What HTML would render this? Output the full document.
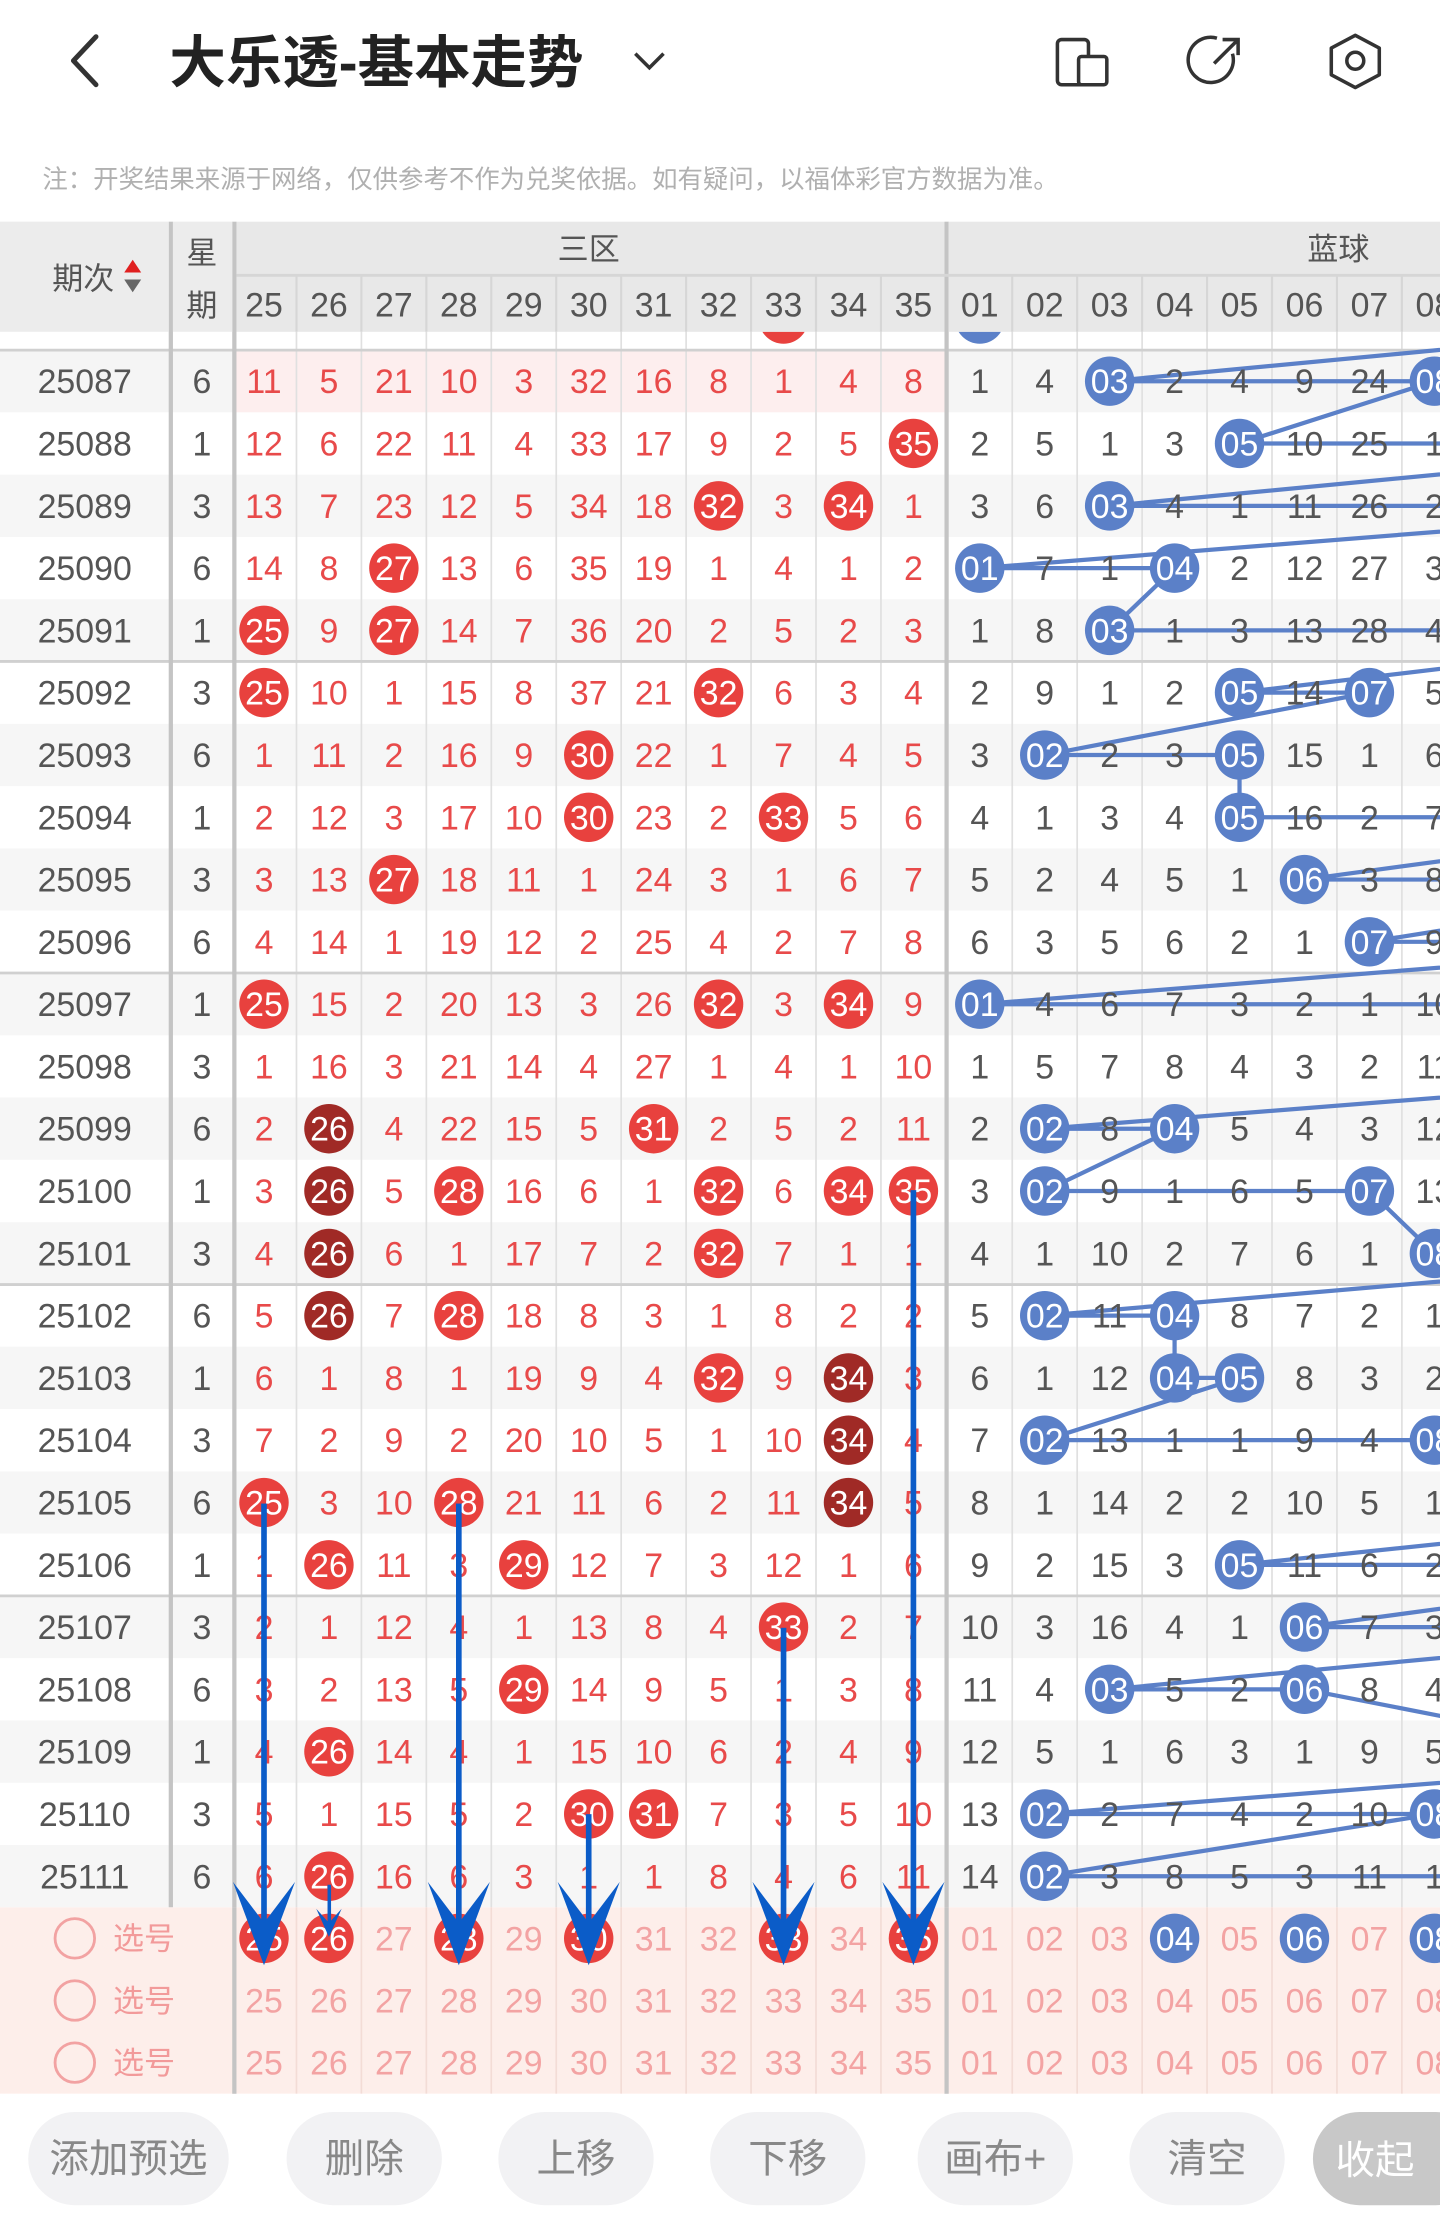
<!DOCTYPE html>
<html><head><meta charset="utf-8"><style>
html,body{margin:0;padding:0;background:#fff;}
svg{display:block;}
text{font-family:"Liberation Sans","Noto Sans CJK SC",sans-serif;}
.c{text-anchor:middle;font-size:24px;}
.g{fill:#555;}
.r{fill:#e84a4a;}
.w{fill:#fff;}
.p{fill:#f3a3a3;}
.bl{fill:#5b80c8;}
.rb{fill:#e8413e;}
.db{fill:#a02a26;}
</style></head><body>
<svg width="1440" height="2213" viewBox="0 0 1020 1567.5" xmlns="http://www.w3.org/2000/svg">
<rect width="1020" height="1567.5" fill="#fff"/>
<path d="M68,26 L52,43 L68,60" fill="none" stroke="#333" stroke-width="3.5" stroke-linecap="round" stroke-linejoin="round"/>
<text x="120" y="58" style="font-size:40px;font-weight:bold;fill:#222">大乐透-基本走势</text>
<path d="M450,38 L460,48 L470,38" fill="none" stroke="#333" stroke-width="2.5"/>
<rect x="749" y="28" width="22" height="32" rx="3" fill="none" stroke="#333" stroke-width="2.5"/>
<rect x="764" y="40" width="20" height="20" rx="2" fill="#fff" stroke="#333" stroke-width="2.5"/>
<path d="M873,38 A16,16 0 1 1 862,27" fill="none" stroke="#333" stroke-width="2.5"/>
<path d="M860,45 L876,29 M866,28 L877,28 L877,39" fill="none" stroke="#333" stroke-width="2.5"/>
<path d="M960,25 L977,34 L977,53 L960,62 L943,53 L943,34 Z" fill="none" stroke="#333" stroke-width="2.5" stroke-linejoin="round"/>
<circle cx="960" cy="43" r="6" fill="none" stroke="#333" stroke-width="2.5"/>
<text x="30" y="133" style="font-size:18px;fill:#b0b0b0">注：开奖结果来源于网络，仅供参考不作为兑奖依据。如有疑问，以福体彩官方数据为准。</text>

<defs><clipPath id="body"><rect x="0" y="235" width="1020" height="1116"/></clipPath></defs>
<g clip-path="url(#body)">
<rect x="0" y="248" width="1020" height="44" fill="#f5f5f5"/>
<rect x="166" y="248" width="504" height="44" fill="#fdeeee"/>
<rect x="0" y="336.2" width="1020" height="44.1" fill="#f6f6f6"/>
<rect x="0" y="424.4" width="1020" height="44.1" fill="#f6f6f6"/>
<rect x="0" y="512.7" width="1020" height="44.1" fill="#f6f6f6"/>
<rect x="0" y="600.9" width="1020" height="44.1" fill="#f6f6f6"/>
<rect x="0" y="689.2" width="1020" height="44.1" fill="#f6f6f6"/>
<rect x="0" y="777.4" width="1020" height="44.1" fill="#f6f6f6"/>
<rect x="0" y="865.7" width="1020" height="44.1" fill="#f6f6f6"/>
<rect x="0" y="953.9" width="1020" height="44.1" fill="#f6f6f6"/>
<rect x="0" y="1042.2" width="1020" height="44.1" fill="#f6f6f6"/>
<rect x="0" y="1130.4" width="1020" height="44.1" fill="#f6f6f6"/>
<rect x="0" y="1218.7" width="1020" height="44.1" fill="#f6f6f6"/>
<rect x="0" y="1306.9" width="1020" height="44.1" fill="#f6f6f6"/>
<g stroke="#e0e0e0" stroke-width="1.2">
<path d="M210,195V1483M256,195V1483M302,195V1483M348,195V1483M394,195V1483M440,195V1483M486,195V1483M532,195V1483M578,195V1483M624,195V1483M717,195V1483M763,195V1483M809,195V1483M855,195V1483M901,195V1483M947,195V1483M993,195V1483"/>
</g>
<g stroke="#d0d0d0" stroke-width="2">
<path d="M0,468.5H1020M0,689.2H1020M0,909.9H1020M0,1130.4H1020M0,248H1020"/>
</g>
<circle cx="694" cy="226" r="17.5" class="bl"/>
<circle cx="555" cy="226" r="17.5" class="rb"/>
<polyline fill="none" stroke="#5b80c8" stroke-width="3" points="694,226 1250,226 786,270 1016,270 878,314.1 1250,314.1 786,358.3 1250,358.3 694,402.4 832,402.4 786,446.5 1250,446.5 878,490.6 970,490.6 740,534.8 878,534.8 878,578.9 1250,578.9 924,623 1250,623 970,667.1 1250,667.1 694,711.3 1250,711.3 1150,755.4 1300,755.4 740,799.5 832,799.5 740,843.6 970,843.6 1016,887.8 1250,887.8 740,931.9 832,931.9 832,976 878,976 740,1020.1 1016,1020.1 1150,1064.3 1300,1064.3 878,1108.4 1250,1108.4 924,1152.5 1250,1152.5 786,1196.6 924,1196.6 1150,1240.8 1300,1240.8 740,1284.9 1016,1284.9 740,1329 1250,1329"/>
</g>
<rect x="119.5" y="157" width="3" height="1194" fill="#c4c4c4"/>
<rect x="164.5" y="157" width="3" height="1326" fill="#c4c4c4"/>
<rect x="669" y="157" width="3" height="1326" fill="#c4c4c4"/>
<rect x="0" y="157" width="119.5" height="78" fill="#ececec"/>
<rect x="122.5" y="157" width="42" height="78" fill="#ececec"/>
<rect x="167.5" y="157" width="501.5" height="78" fill="#e8e8e8"/>
<rect x="672" y="157" width="348" height="78" fill="#e8e8e8"/>
<path d="M167.5,195H1020" stroke="#d6d6d6" stroke-width="2"/>
<g stroke="#d6d6d6" stroke-width="1.5"><path d="M210,195V235M256,195V235M302,195V235M348,195V235M394,195V235M440,195V235M486,195V235M532,195V235M578,195V235M624,195V235M717,195V235M763,195V235M809,195V235M855,195V235M901,195V235M947,195V235M993,195V235"/></g>
<text x="37" y="205" style="font-size:22px;fill:#555">期次</text>
<path d="M94,184 L100,193 L88,193 Z" fill="#e02020"/>
<path d="M94,207 L100,198 L88,198 Z" fill="#666"/>
<text x="143" y="187" class="c g" style="font-size:22px">星</text>
<text x="143" y="224" class="c g" style="font-size:22px">期</text>
<text x="417" y="184" class="c g" style="font-size:22px">三区</text>
<text x="948" y="184" class="c g" style="font-size:22px">蓝球</text>
<g class="g" style="font-size:24px;text-anchor:middle" transform="translate(0,224)">
<text x="187">25</text><text x="233">26</text><text x="279">27</text><text x="325">28</text><text x="371">29</text><text x="417">30</text><text x="463">31</text><text x="509">32</text><text x="555">33</text><text x="601">34</text><text x="647">35</text>
<text x="694">01</text><text x="740">02</text><text x="786">03</text><text x="832">04</text><text x="878">05</text><text x="924">06</text><text x="970">07</text><text x="1016">08</text>
</g>

<g class="c">
<g transform="translate(0,278.5)"><text x="60" class="g">25087</text><text x="143" class="g">6</text>
<text x="187" class="r">11</text><text x="233" class="r">5</text><text x="279" class="r">21</text><text x="325" class="r">10</text><text x="371" class="r">3</text><text x="417" class="r">32</text><text x="463" class="r">16</text><text x="509" class="r">8</text><text x="555" class="r">1</text><text x="601" class="r">4</text><text x="647" class="r">8</text>
<text x="694" class="g">1</text><text x="740" class="g">4</text><circle cx="786" cy="-8.5" r="17.5" class="bl"/><text x="786" class="w">03</text><text x="832" class="g">2</text><text x="878" class="g">4</text><text x="924" class="g">9</text><text x="970" class="g">24</text><circle cx="1016" cy="-8.5" r="17.5" class="bl"/><text x="1016" class="w">08</text></g>

<g transform="translate(0,322.6)"><text x="60" class="g">25088</text><text x="143" class="g">1</text>
<text x="187" class="r">12</text><text x="233" class="r">6</text><text x="279" class="r">22</text><text x="325" class="r">11</text><text x="371" class="r">4</text><text x="417" class="r">33</text><text x="463" class="r">17</text><text x="509" class="r">9</text><text x="555" class="r">2</text><text x="601" class="r">5</text><circle cx="647" cy="-8.5" r="17.5" class="rb"/><text x="647" class="w">35</text>
<text x="694" class="g">2</text><text x="740" class="g">5</text><text x="786" class="g">1</text><text x="832" class="g">3</text><circle cx="878" cy="-8.5" r="17.5" class="bl"/><text x="878" class="w">05</text><text x="924" class="g">10</text><text x="970" class="g">25</text><text x="1016" class="g">1</text></g>

<g transform="translate(0,366.8)"><text x="60" class="g">25089</text><text x="143" class="g">3</text>
<text x="187" class="r">13</text><text x="233" class="r">7</text><text x="279" class="r">23</text><text x="325" class="r">12</text><text x="371" class="r">5</text><text x="417" class="r">34</text><text x="463" class="r">18</text><circle cx="509" cy="-8.5" r="17.5" class="rb"/><text x="509" class="w">32</text><text x="555" class="r">3</text><circle cx="601" cy="-8.5" r="17.5" class="rb"/><text x="601" class="w">34</text><text x="647" class="r">1</text>
<text x="694" class="g">3</text><text x="740" class="g">6</text><circle cx="786" cy="-8.5" r="17.5" class="bl"/><text x="786" class="w">03</text><text x="832" class="g">4</text><text x="878" class="g">1</text><text x="924" class="g">11</text><text x="970" class="g">26</text><text x="1016" class="g">2</text></g>

<g transform="translate(0,410.9)"><text x="60" class="g">25090</text><text x="143" class="g">6</text>
<text x="187" class="r">14</text><text x="233" class="r">8</text><circle cx="279" cy="-8.5" r="17.5" class="rb"/><text x="279" class="w">27</text><text x="325" class="r">13</text><text x="371" class="r">6</text><text x="417" class="r">35</text><text x="463" class="r">19</text><text x="509" class="r">1</text><text x="555" class="r">4</text><text x="601" class="r">1</text><text x="647" class="r">2</text>
<circle cx="694" cy="-8.5" r="17.5" class="bl"/><text x="694" class="w">01</text><text x="740" class="g">7</text><text x="786" class="g">1</text><circle cx="832" cy="-8.5" r="17.5" class="bl"/><text x="832" class="w">04</text><text x="878" class="g">2</text><text x="924" class="g">12</text><text x="970" class="g">27</text><text x="1016" class="g">3</text></g>

<g transform="translate(0,455)"><text x="60" class="g">25091</text><text x="143" class="g">1</text>
<circle cx="187" cy="-8.5" r="17.5" class="rb"/><text x="187" class="w">25</text><text x="233" class="r">9</text><circle cx="279" cy="-8.5" r="17.5" class="rb"/><text x="279" class="w">27</text><text x="325" class="r">14</text><text x="371" class="r">7</text><text x="417" class="r">36</text><text x="463" class="r">20</text><text x="509" class="r">2</text><text x="555" class="r">5</text><text x="601" class="r">2</text><text x="647" class="r">3</text>
<text x="694" class="g">1</text><text x="740" class="g">8</text><circle cx="786" cy="-8.5" r="17.5" class="bl"/><text x="786" class="w">03</text><text x="832" class="g">1</text><text x="878" class="g">3</text><text x="924" class="g">13</text><text x="970" class="g">28</text><text x="1016" class="g">4</text></g>

<g transform="translate(0,499.1)"><text x="60" class="g">25092</text><text x="143" class="g">3</text>
<circle cx="187" cy="-8.5" r="17.5" class="rb"/><text x="187" class="w">25</text><text x="233" class="r">10</text><text x="279" class="r">1</text><text x="325" class="r">15</text><text x="371" class="r">8</text><text x="417" class="r">37</text><text x="463" class="r">21</text><circle cx="509" cy="-8.5" r="17.5" class="rb"/><text x="509" class="w">32</text><text x="555" class="r">6</text><text x="601" class="r">3</text><text x="647" class="r">4</text>
<text x="694" class="g">2</text><text x="740" class="g">9</text><text x="786" class="g">1</text><text x="832" class="g">2</text><circle cx="878" cy="-8.5" r="17.5" class="bl"/><text x="878" class="w">05</text><text x="924" class="g">14</text><circle cx="970" cy="-8.5" r="17.5" class="bl"/><text x="970" class="w">07</text><text x="1016" class="g">5</text></g>

<g transform="translate(0,543.3)"><text x="60" class="g">25093</text><text x="143" class="g">6</text>
<text x="187" class="r">1</text><text x="233" class="r">11</text><text x="279" class="r">2</text><text x="325" class="r">16</text><text x="371" class="r">9</text><circle cx="417" cy="-8.5" r="17.5" class="rb"/><text x="417" class="w">30</text><text x="463" class="r">22</text><text x="509" class="r">1</text><text x="555" class="r">7</text><text x="601" class="r">4</text><text x="647" class="r">5</text>
<text x="694" class="g">3</text><circle cx="740" cy="-8.5" r="17.5" class="bl"/><text x="740" class="w">02</text><text x="786" class="g">2</text><text x="832" class="g">3</text><circle cx="878" cy="-8.5" r="17.5" class="bl"/><text x="878" class="w">05</text><text x="924" class="g">15</text><text x="970" class="g">1</text><text x="1016" class="g">6</text></g>

<g transform="translate(0,587.4)"><text x="60" class="g">25094</text><text x="143" class="g">1</text>
<text x="187" class="r">2</text><text x="233" class="r">12</text><text x="279" class="r">3</text><text x="325" class="r">17</text><text x="371" class="r">10</text><circle cx="417" cy="-8.5" r="17.5" class="rb"/><text x="417" class="w">30</text><text x="463" class="r">23</text><text x="509" class="r">2</text><circle cx="555" cy="-8.5" r="17.5" class="rb"/><text x="555" class="w">33</text><text x="601" class="r">5</text><text x="647" class="r">6</text>
<text x="694" class="g">4</text><text x="740" class="g">1</text><text x="786" class="g">3</text><text x="832" class="g">4</text><circle cx="878" cy="-8.5" r="17.5" class="bl"/><text x="878" class="w">05</text><text x="924" class="g">16</text><text x="970" class="g">2</text><text x="1016" class="g">7</text></g>

<g transform="translate(0,631.5)"><text x="60" class="g">25095</text><text x="143" class="g">3</text>
<text x="187" class="r">3</text><text x="233" class="r">13</text><circle cx="279" cy="-8.5" r="17.5" class="rb"/><text x="279" class="w">27</text><text x="325" class="r">18</text><text x="371" class="r">11</text><text x="417" class="r">1</text><text x="463" class="r">24</text><text x="509" class="r">3</text><text x="555" class="r">1</text><text x="601" class="r">6</text><text x="647" class="r">7</text>
<text x="694" class="g">5</text><text x="740" class="g">2</text><text x="786" class="g">4</text><text x="832" class="g">5</text><text x="878" class="g">1</text><circle cx="924" cy="-8.5" r="17.5" class="bl"/><text x="924" class="w">06</text><text x="970" class="g">3</text><text x="1016" class="g">8</text></g>

<g transform="translate(0,675.6)"><text x="60" class="g">25096</text><text x="143" class="g">6</text>
<text x="187" class="r">4</text><text x="233" class="r">14</text><text x="279" class="r">1</text><text x="325" class="r">19</text><text x="371" class="r">12</text><text x="417" class="r">2</text><text x="463" class="r">25</text><text x="509" class="r">4</text><text x="555" class="r">2</text><text x="601" class="r">7</text><text x="647" class="r">8</text>
<text x="694" class="g">6</text><text x="740" class="g">3</text><text x="786" class="g">5</text><text x="832" class="g">6</text><text x="878" class="g">2</text><text x="924" class="g">1</text><circle cx="970" cy="-8.5" r="17.5" class="bl"/><text x="970" class="w">07</text><text x="1016" class="g">9</text></g>

<g transform="translate(0,719.8)"><text x="60" class="g">25097</text><text x="143" class="g">1</text>
<circle cx="187" cy="-8.5" r="17.5" class="rb"/><text x="187" class="w">25</text><text x="233" class="r">15</text><text x="279" class="r">2</text><text x="325" class="r">20</text><text x="371" class="r">13</text><text x="417" class="r">3</text><text x="463" class="r">26</text><circle cx="509" cy="-8.5" r="17.5" class="rb"/><text x="509" class="w">32</text><text x="555" class="r">3</text><circle cx="601" cy="-8.5" r="17.5" class="rb"/><text x="601" class="w">34</text><text x="647" class="r">9</text>
<circle cx="694" cy="-8.5" r="17.5" class="bl"/><text x="694" class="w">01</text><text x="740" class="g">4</text><text x="786" class="g">6</text><text x="832" class="g">7</text><text x="878" class="g">3</text><text x="924" class="g">2</text><text x="970" class="g">1</text><text x="1016" class="g">10</text></g>

<g transform="translate(0,763.9)"><text x="60" class="g">25098</text><text x="143" class="g">3</text>
<text x="187" class="r">1</text><text x="233" class="r">16</text><text x="279" class="r">3</text><text x="325" class="r">21</text><text x="371" class="r">14</text><text x="417" class="r">4</text><text x="463" class="r">27</text><text x="509" class="r">1</text><text x="555" class="r">4</text><text x="601" class="r">1</text><text x="647" class="r">10</text>
<text x="694" class="g">1</text><text x="740" class="g">5</text><text x="786" class="g">7</text><text x="832" class="g">8</text><text x="878" class="g">4</text><text x="924" class="g">3</text><text x="970" class="g">2</text><text x="1016" class="g">11</text></g>

<g transform="translate(0,808)"><text x="60" class="g">25099</text><text x="143" class="g">6</text>
<text x="187" class="r">2</text><circle cx="233" cy="-8.5" r="17.5" class="db"/><text x="233" class="w">26</text><text x="279" class="r">4</text><text x="325" class="r">22</text><text x="371" class="r">15</text><text x="417" class="r">5</text><circle cx="463" cy="-8.5" r="17.5" class="rb"/><text x="463" class="w">31</text><text x="509" class="r">2</text><text x="555" class="r">5</text><text x="601" class="r">2</text><text x="647" class="r">11</text>
<text x="694" class="g">2</text><circle cx="740" cy="-8.5" r="17.5" class="bl"/><text x="740" class="w">02</text><text x="786" class="g">8</text><circle cx="832" cy="-8.5" r="17.5" class="bl"/><text x="832" class="w">04</text><text x="878" class="g">5</text><text x="924" class="g">4</text><text x="970" class="g">3</text><text x="1016" class="g">12</text></g>

<g transform="translate(0,852.1)"><text x="60" class="g">25100</text><text x="143" class="g">1</text>
<text x="187" class="r">3</text><circle cx="233" cy="-8.5" r="17.5" class="db"/><text x="233" class="w">26</text><text x="279" class="r">5</text><circle cx="325" cy="-8.5" r="17.5" class="rb"/><text x="325" class="w">28</text><text x="371" class="r">16</text><text x="417" class="r">6</text><text x="463" class="r">1</text><circle cx="509" cy="-8.5" r="17.5" class="rb"/><text x="509" class="w">32</text><text x="555" class="r">6</text><circle cx="601" cy="-8.5" r="17.5" class="rb"/><text x="601" class="w">34</text><circle cx="647" cy="-8.5" r="17.5" class="rb"/><text x="647" class="w">35</text>
<text x="694" class="g">3</text><circle cx="740" cy="-8.5" r="17.5" class="bl"/><text x="740" class="w">02</text><text x="786" class="g">9</text><text x="832" class="g">1</text><text x="878" class="g">6</text><text x="924" class="g">5</text><circle cx="970" cy="-8.5" r="17.5" class="bl"/><text x="970" class="w">07</text><text x="1016" class="g">13</text></g>

<g transform="translate(0,896.3)"><text x="60" class="g">25101</text><text x="143" class="g">3</text>
<text x="187" class="r">4</text><circle cx="233" cy="-8.5" r="17.5" class="db"/><text x="233" class="w">26</text><text x="279" class="r">6</text><text x="325" class="r">1</text><text x="371" class="r">17</text><text x="417" class="r">7</text><text x="463" class="r">2</text><circle cx="509" cy="-8.5" r="17.5" class="rb"/><text x="509" class="w">32</text><text x="555" class="r">7</text><text x="601" class="r">1</text><text x="647" class="r">1</text>
<text x="694" class="g">4</text><text x="740" class="g">1</text><text x="786" class="g">10</text><text x="832" class="g">2</text><text x="878" class="g">7</text><text x="924" class="g">6</text><text x="970" class="g">1</text><circle cx="1016" cy="-8.5" r="17.5" class="bl"/><text x="1016" class="w">08</text></g>

<g transform="translate(0,940.4)"><text x="60" class="g">25102</text><text x="143" class="g">6</text>
<text x="187" class="r">5</text><circle cx="233" cy="-8.5" r="17.5" class="db"/><text x="233" class="w">26</text><text x="279" class="r">7</text><circle cx="325" cy="-8.5" r="17.5" class="rb"/><text x="325" class="w">28</text><text x="371" class="r">18</text><text x="417" class="r">8</text><text x="463" class="r">3</text><text x="509" class="r">1</text><text x="555" class="r">8</text><text x="601" class="r">2</text><text x="647" class="r">2</text>
<text x="694" class="g">5</text><circle cx="740" cy="-8.5" r="17.5" class="bl"/><text x="740" class="w">02</text><text x="786" class="g">11</text><circle cx="832" cy="-8.5" r="17.5" class="bl"/><text x="832" class="w">04</text><text x="878" class="g">8</text><text x="924" class="g">7</text><text x="970" class="g">2</text><text x="1016" class="g">1</text></g>

<g transform="translate(0,984.5)"><text x="60" class="g">25103</text><text x="143" class="g">1</text>
<text x="187" class="r">6</text><text x="233" class="r">1</text><text x="279" class="r">8</text><text x="325" class="r">1</text><text x="371" class="r">19</text><text x="417" class="r">9</text><text x="463" class="r">4</text><circle cx="509" cy="-8.5" r="17.5" class="rb"/><text x="509" class="w">32</text><text x="555" class="r">9</text><circle cx="601" cy="-8.5" r="17.5" class="db"/><text x="601" class="w">34</text><text x="647" class="r">3</text>
<text x="694" class="g">6</text><text x="740" class="g">1</text><text x="786" class="g">12</text><circle cx="832" cy="-8.5" r="17.5" class="bl"/><text x="832" class="w">04</text><circle cx="878" cy="-8.5" r="17.5" class="bl"/><text x="878" class="w">05</text><text x="924" class="g">8</text><text x="970" class="g">3</text><text x="1016" class="g">2</text></g>

<g transform="translate(0,1028.6)"><text x="60" class="g">25104</text><text x="143" class="g">3</text>
<text x="187" class="r">7</text><text x="233" class="r">2</text><text x="279" class="r">9</text><text x="325" class="r">2</text><text x="371" class="r">20</text><text x="417" class="r">10</text><text x="463" class="r">5</text><text x="509" class="r">1</text><text x="555" class="r">10</text><circle cx="601" cy="-8.5" r="17.5" class="db"/><text x="601" class="w">34</text><text x="647" class="r">4</text>
<text x="694" class="g">7</text><circle cx="740" cy="-8.5" r="17.5" class="bl"/><text x="740" class="w">02</text><text x="786" class="g">13</text><text x="832" class="g">1</text><text x="878" class="g">1</text><text x="924" class="g">9</text><text x="970" class="g">4</text><circle cx="1016" cy="-8.5" r="17.5" class="bl"/><text x="1016" class="w">08</text></g>

<g transform="translate(0,1072.8)"><text x="60" class="g">25105</text><text x="143" class="g">6</text>
<circle cx="187" cy="-8.5" r="17.5" class="rb"/><text x="187" class="w">25</text><text x="233" class="r">3</text><text x="279" class="r">10</text><circle cx="325" cy="-8.5" r="17.5" class="rb"/><text x="325" class="w">28</text><text x="371" class="r">21</text><text x="417" class="r">11</text><text x="463" class="r">6</text><text x="509" class="r">2</text><text x="555" class="r">11</text><circle cx="601" cy="-8.5" r="17.5" class="db"/><text x="601" class="w">34</text><text x="647" class="r">5</text>
<text x="694" class="g">8</text><text x="740" class="g">1</text><text x="786" class="g">14</text><text x="832" class="g">2</text><text x="878" class="g">2</text><text x="924" class="g">10</text><text x="970" class="g">5</text><text x="1016" class="g">1</text></g>

<g transform="translate(0,1116.9)"><text x="60" class="g">25106</text><text x="143" class="g">1</text>
<text x="187" class="r">1</text><circle cx="233" cy="-8.5" r="17.5" class="rb"/><text x="233" class="w">26</text><text x="279" class="r">11</text><text x="325" class="r">3</text><circle cx="371" cy="-8.5" r="17.5" class="rb"/><text x="371" class="w">29</text><text x="417" class="r">12</text><text x="463" class="r">7</text><text x="509" class="r">3</text><text x="555" class="r">12</text><text x="601" class="r">1</text><text x="647" class="r">6</text>
<text x="694" class="g">9</text><text x="740" class="g">2</text><text x="786" class="g">15</text><text x="832" class="g">3</text><circle cx="878" cy="-8.5" r="17.5" class="bl"/><text x="878" class="w">05</text><text x="924" class="g">11</text><text x="970" class="g">6</text><text x="1016" class="g">2</text></g>

<g transform="translate(0,1161)"><text x="60" class="g">25107</text><text x="143" class="g">3</text>
<text x="187" class="r">2</text><text x="233" class="r">1</text><text x="279" class="r">12</text><text x="325" class="r">4</text><text x="371" class="r">1</text><text x="417" class="r">13</text><text x="463" class="r">8</text><text x="509" class="r">4</text><circle cx="555" cy="-8.5" r="17.5" class="rb"/><text x="555" class="w">33</text><text x="601" class="r">2</text><text x="647" class="r">7</text>
<text x="694" class="g">10</text><text x="740" class="g">3</text><text x="786" class="g">16</text><text x="832" class="g">4</text><text x="878" class="g">1</text><circle cx="924" cy="-8.5" r="17.5" class="bl"/><text x="924" class="w">06</text><text x="970" class="g">7</text><text x="1016" class="g">3</text></g>

<g transform="translate(0,1205.1)"><text x="60" class="g">25108</text><text x="143" class="g">6</text>
<text x="187" class="r">3</text><text x="233" class="r">2</text><text x="279" class="r">13</text><text x="325" class="r">5</text><circle cx="371" cy="-8.5" r="17.5" class="rb"/><text x="371" class="w">29</text><text x="417" class="r">14</text><text x="463" class="r">9</text><text x="509" class="r">5</text><text x="555" class="r">1</text><text x="601" class="r">3</text><text x="647" class="r">8</text>
<text x="694" class="g">11</text><text x="740" class="g">4</text><circle cx="786" cy="-8.5" r="17.5" class="bl"/><text x="786" class="w">03</text><text x="832" class="g">5</text><text x="878" class="g">2</text><circle cx="924" cy="-8.5" r="17.5" class="bl"/><text x="924" class="w">06</text><text x="970" class="g">8</text><text x="1016" class="g">4</text></g>

<g transform="translate(0,1249.3)"><text x="60" class="g">25109</text><text x="143" class="g">1</text>
<text x="187" class="r">4</text><circle cx="233" cy="-8.5" r="17.5" class="rb"/><text x="233" class="w">26</text><text x="279" class="r">14</text><text x="325" class="r">4</text><text x="371" class="r">1</text><text x="417" class="r">15</text><text x="463" class="r">10</text><text x="509" class="r">6</text><text x="555" class="r">2</text><text x="601" class="r">4</text><text x="647" class="r">9</text>
<text x="694" class="g">12</text><text x="740" class="g">5</text><text x="786" class="g">1</text><text x="832" class="g">6</text><text x="878" class="g">3</text><text x="924" class="g">1</text><text x="970" class="g">9</text><text x="1016" class="g">5</text></g>

<g transform="translate(0,1293.4)"><text x="60" class="g">25110</text><text x="143" class="g">3</text>
<text x="187" class="r">5</text><text x="233" class="r">1</text><text x="279" class="r">15</text><text x="325" class="r">5</text><text x="371" class="r">2</text><circle cx="417" cy="-8.5" r="17.5" class="rb"/><text x="417" class="w">30</text><circle cx="463" cy="-8.5" r="17.5" class="rb"/><text x="463" class="w">31</text><text x="509" class="r">7</text><text x="555" class="r">3</text><text x="601" class="r">5</text><text x="647" class="r">10</text>
<text x="694" class="g">13</text><circle cx="740" cy="-8.5" r="17.5" class="bl"/><text x="740" class="w">02</text><text x="786" class="g">2</text><text x="832" class="g">7</text><text x="878" class="g">4</text><text x="924" class="g">2</text><text x="970" class="g">10</text><circle cx="1016" cy="-8.5" r="17.5" class="bl"/><text x="1016" class="w">08</text></g>

<g transform="translate(0,1337.5)"><text x="60" class="g">25111</text><text x="143" class="g">6</text>
<text x="187" class="r">6</text><circle cx="233" cy="-8.5" r="17.5" class="rb"/><text x="233" class="w">26</text><text x="279" class="r">16</text><text x="325" class="r">6</text><text x="371" class="r">3</text><text x="417" class="r">1</text><text x="463" class="r">1</text><text x="509" class="r">8</text><text x="555" class="r">4</text><text x="601" class="r">6</text><text x="647" class="r">11</text>
<text x="694" class="g">14</text><circle cx="740" cy="-8.5" r="17.5" class="bl"/><text x="740" class="w">02</text><text x="786" class="g">3</text><text x="832" class="g">8</text><text x="878" class="g">5</text><text x="924" class="g">3</text><text x="970" class="g">11</text><text x="1016" class="g">1</text></g>
</g>

<rect x="0" y="1351" width="1020" height="132" fill="#fdeeea"/>
<g stroke="#f3dcd6" stroke-width="1.2"><path d="M210,1351V1483M256,1351V1483M302,1351V1483M348,1351V1483M394,1351V1483M440,1351V1483M486,1351V1483M532,1351V1483M578,1351V1483M624,1351V1483M717,1351V1483M763,1351V1483M809,1351V1483M855,1351V1483M901,1351V1483M947,1351V1483M993,1351V1483"/></g>
<rect x="164.5" y="1351" width="3" height="132" fill="#c4c4c4"/>
<rect x="669" y="1351" width="3" height="132" fill="#c4c4c4"/>
<g fill="none" stroke="#f2a2a2" stroke-width="2"><circle cx="53" cy="1373" r="14"/><circle cx="53" cy="1417" r="14"/><circle cx="53" cy="1461" r="14"/></g>
<g style="font-size:22px;fill:#f29a9a"><text x="80" y="1381">选号</text><text x="80" y="1425">选号</text><text x="80" y="1469">选号</text></g>
<g class="c">
<g transform="translate(0,1381.5)">
<circle cx="187" cy="-8.5" r="17.5" class="rb"/><text x="187" class="w">25</text><circle cx="233" cy="-8.5" r="17.5" class="rb"/><text x="233" class="w">26</text><text x="279" class="p">27</text><circle cx="325" cy="-8.5" r="17.5" class="rb"/><text x="325" class="w">28</text><text x="371" class="p">29</text><circle cx="417" cy="-8.5" r="17.5" class="rb"/><text x="417" class="w">30</text><text x="463" class="p">31</text><text x="509" class="p">32</text><circle cx="555" cy="-8.5" r="17.5" class="rb"/><text x="555" class="w">33</text><text x="601" class="p">34</text><circle cx="647" cy="-8.5" r="17.5" class="rb"/><text x="647" class="w">35</text>
<text x="694" class="p">01</text><text x="740" class="p">02</text><text x="786" class="p">03</text><circle cx="832" cy="-8.5" r="17.5" class="bl"/><text x="832" class="w">04</text><text x="878" class="p">05</text><circle cx="924" cy="-8.5" r="17.5" class="bl"/><text x="924" class="w">06</text><text x="970" class="p">07</text><circle cx="1016" cy="-8.5" r="17.5" class="bl"/><text x="1016" class="w">08</text></g>
<g transform="translate(0,1425.5)" class="p">
<text x="187">25</text><text x="233">26</text><text x="279">27</text><text x="325">28</text><text x="371">29</text><text x="417">30</text><text x="463">31</text><text x="509">32</text><text x="555">33</text><text x="601">34</text><text x="647">35</text><text x="694">01</text><text x="740">02</text><text x="786">03</text><text x="832">04</text><text x="878">05</text><text x="924">06</text><text x="970">07</text><text x="1016">08</text></g>
<g transform="translate(0,1469.5)" class="p">
<text x="187">25</text><text x="233">26</text><text x="279">27</text><text x="325">28</text><text x="371">29</text><text x="417">30</text><text x="463">31</text><text x="509">32</text><text x="555">33</text><text x="601">34</text><text x="647">35</text><text x="694">01</text><text x="740">02</text><text x="786">03</text><text x="832">04</text><text x="878">05</text><text x="924">06</text><text x="970">07</text><text x="1016">08</text></g>
</g>

<g fill="#0b5cc8" stroke="none">
<rect x="185" y="1065" width="4" height="300"/><path d="M187,1392 L165,1333 L187,1362 L209,1333 Z"/>
<rect x="323" y="1065" width="4" height="300"/><path d="M325,1392 L303,1333 L325,1362 L347,1333 Z"/>
<rect x="415" y="1285" width="4" height="80"/><path d="M417,1392 L395,1333 L417,1362 L439,1333 Z"/>
<rect x="553" y="1153" width="4" height="212"/><path d="M555,1392 L533,1333 L555,1362 L577,1333 Z"/>
<rect x="645" y="843" width="4" height="522"/><path d="M647,1392 L625,1333 L647,1362 L669,1333 Z"/>
<rect x="232" y="1335" width="2.5" height="28"/><path d="M233,1372 L224,1352 L233,1362 L242,1352 Z"/>
</g>

<g fill="#f2f2f4">
<rect x="20" y="1496" width="142" height="66" rx="33"/>
<rect x="203" y="1496" width="110" height="66" rx="33"/>
<rect x="353" y="1496" width="110" height="66" rx="33"/>
<rect x="503" y="1496" width="110" height="66" rx="33"/>
<rect x="650" y="1496" width="110" height="66" rx="33"/>
<rect x="800" y="1496" width="110" height="66" rx="33"/>
</g>
<rect x="930" y="1496" width="120" height="66" rx="33" fill="#c8c8c8"/>
<g style="font-size:28px;fill:#888;text-anchor:middle">
<text x="91" y="1539">添加预选</text><text x="258" y="1539">删除</text><text x="408" y="1539">上移</text><text x="558" y="1539">下移</text><text x="705" y="1539">画布+</text><text x="855" y="1539">清空</text>
<text x="974" y="1540" style="fill:#fff">收起</text>
</g>
</svg>
</body></html>
